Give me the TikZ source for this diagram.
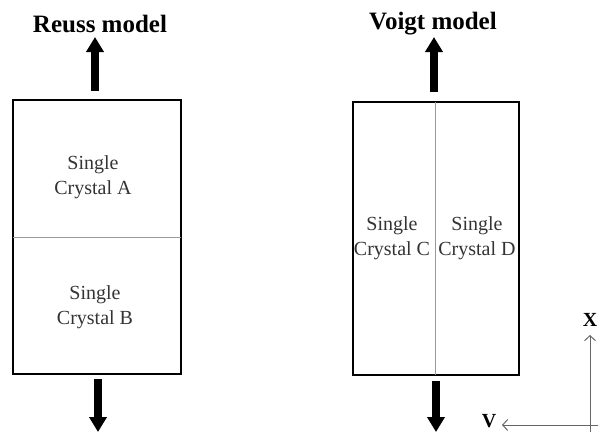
\documentclass[tikz,border=0pt]{standalone}
\usepackage{fontspec}
\setmainfont{Liberation Serif}
\usetikzlibrary{arrows.meta}
\tikzset{
  titletext/.style={font=\bfseries\fontsize{25}{30}\selectfont, inner sep=0pt},
  celltext/.style={font=\fontsize{20}{25}\selectfont, align=center, inner sep=0pt, text=black!80},
  axislabel/.style={font=\bfseries\fontsize{20}{24}\selectfont, inner sep=0pt},
  sample/.style={draw=black, line width=2.6pt, inner sep=0pt, outer sep=0pt, anchor=north west},
  divider/.style={draw=black!40, line width=0.9pt},
  load/.style={line width=8pt, -{Triangle[width=17pt,length=15pt]}},
  axis/.style={draw=black!60, line width=1pt, -{Straight Barb[length=5pt,width=11pt]}}
}
\begin{document}
\begin{tikzpicture}[x=1pt,y=-1pt]
\useasboundingbox (0,0) rectangle (598,432);
% titles
\node[titletext] (reuss) at (100,24) {Reuss model};
\node[titletext] (voigt) at (433,24) {Voigt model};
% boxes
\node[sample, minimum width=168pt, minimum height=274pt] (boxL) at (13,100) {};
\node[sample, minimum width=166pt, minimum height=273pt] (boxR) at (353,102) {};
% dividers
\draw[divider] (boxL.west) -- (boxL.east);
\coordinate (dTop) at (435,102);
\coordinate (dBot) at (435,375);
\draw[divider] (dTop) -- (dBot);
% cell texts
\node[celltext] (cA) at (93,177) {Single\\Crystal A};
\node[celltext] (cB) at (95,307) {Single\\Crystal B};
\node[celltext] (cC) at (392,238) {Single\\Crystal C};
\node[celltext] (cD) at (477,238) {Single\\Crystal D};
% load arrows
\coordinate (uL0) at (95,91);
\coordinate (uL1) at (95,37);
\coordinate (dL0) at (98,379);
\coordinate (dL1) at (98,432);
\coordinate (uR0) at (434,92);
\coordinate (uR1) at (434,37);
\coordinate (dR0) at (436,381);
\coordinate (dR1) at (436,432);
\draw[load] (uL0) -- (uL1);
\draw[load] (dL0) -- (dL1);
\draw[load] (uR0) -- (uR1);
\draw[load] (dR0) -- (dR1);
% axes
\coordinate (ax0) at (590,432);
\coordinate (ax1) at (590,335);
\coordinate (ay0) at (598,425);
\coordinate (ay1) at (502,425);
\draw[axis] (ax0) -- (ax1);
\draw[axis] (ay0) -- (ay1);
\node[axislabel] (lx) at (590,320) {X};
\node[axislabel] (ly) at (489,421) {V};
\end{tikzpicture}
\end{document}
